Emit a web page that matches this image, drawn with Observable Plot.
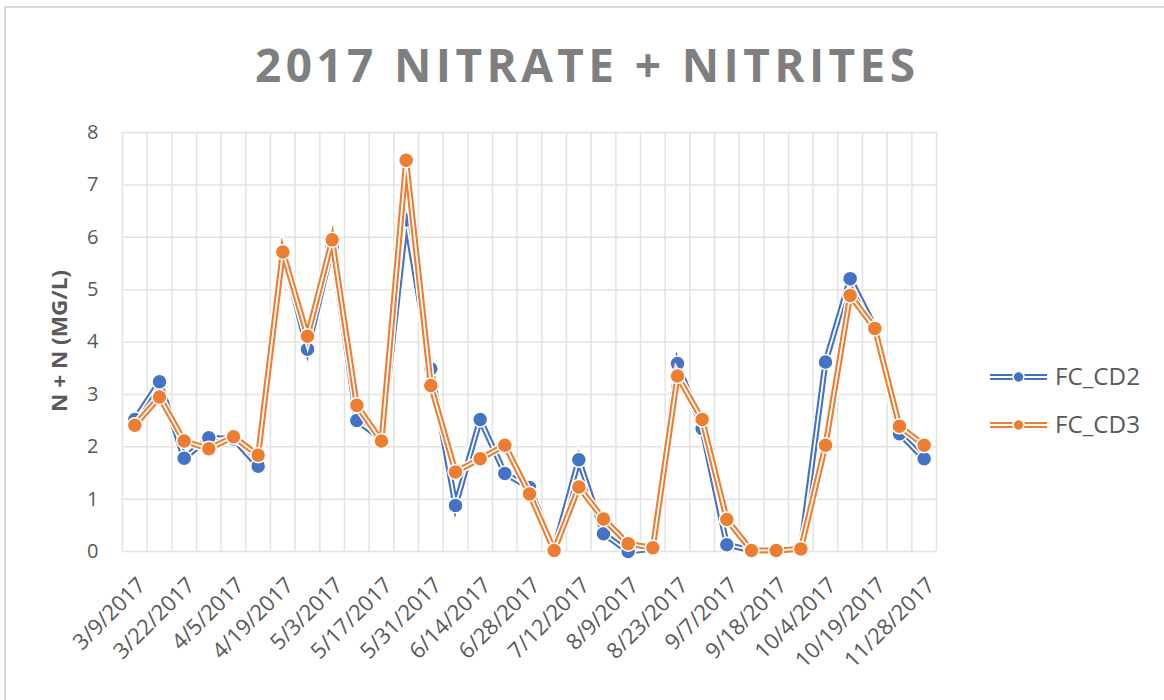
<!DOCTYPE html>
<html>
<head>
<meta charset="utf-8">
<script src="https://cdn.jsdelivr.net/npm/d3@7"></script>
<script src="https://cdn.jsdelivr.net/npm/@observablehq/plot@0.6"></script>
<style>
  body { margin: 0; background: #fff; }
  #wrap { position: relative; width: 1164px; height: 700px; overflow: hidden; background: #fff; }
  #frame { position: absolute; left: 4px; top: 6px; width: 1220px; height: 760px; border: 2px solid #d9d9d9; box-sizing: border-box; }
  #chart { position: absolute; left: 0; top: 0; }
  #overlay { position: absolute; left: 0; top: 0; pointer-events: none; }
</style>
</head>
<body>
<div id="wrap">
  <div id="frame"></div>
  <div id="chart"></div>
  <svg id="overlay" width="1164" height="700"></svg>
</div>
<script>
const titleText = "2017 NITRATE + NITRITES";
const yLabel = "N + N (MG/L)";
const seriesNames = ["FC_CD2", "FC_CD3"];
const seriesColors = ["#4472C4", "#ED7D31"];

const dates = ["3/9/2017","3/15/2017","3/22/2017","3/29/2017","4/5/2017","4/12/2017","4/19/2017","4/26/2017",
  "5/3/2017","5/10/2017","5/17/2017","5/24/2017","5/31/2017","6/7/2017","6/14/2017","6/21/2017",
  "6/28/2017","7/5/2017","7/12/2017","7/26/2017","8/9/2017","8/16/2017","8/23/2017","8/30/2017",
  "9/7/2017","9/13/2017","9/18/2017","9/27/2017","10/4/2017","10/11/2017","10/19/2017","11/8/2017","11/28/2017"];

const fcCD2 = [2.52, 3.24, 1.78, 2.17, 2.15, 1.63, 5.72, 3.86, 5.82, 2.50, 2.15, 6.33, 3.49, 0.88, 2.52, 1.49,
  1.22, 0.05, 1.75, 0.34, 0.00, 0.05, 3.59, 2.35, 0.13, 0.02, 0.02, 0.05, 3.62, 5.21, 4.28, 2.25, 1.77];
const fcCD3 = [2.41, 2.95, 2.11, 1.96, 2.19, 1.84, 5.72, 4.11, 5.95, 2.79, 2.11, 7.47, 3.17, 1.52, 1.77, 2.03,
  1.10, 0.02, 1.23, 0.62, 0.15, 0.07, 3.35, 2.52, 0.61, 0.02, 0.02, 0.05, 2.03, 4.89, 4.26, 2.39, 2.03];

const yTicks = [0, 1, 2, 3, 4, 5, 6, 7, 8];
const xTickIdx = d3.range(0, dates.length, 2);

const series = [fcCD2, fcCD3];
const gridColor = "#e3e3e3";
const textColor = "#595959";
const font = "'Open Sans', sans-serif";

const seriesMarks = series.flatMap((vals, s) => [
  Plot.line(vals, {x: (d, i) => i, y: d => d, stroke: "#ffffff", strokeWidth: 9, strokeLinejoin: "miter", strokeMiterlimit: 6}),
  Plot.line(vals, {x: (d, i) => i, y: d => d, stroke: seriesColors[s], strokeWidth: 6, strokeLinejoin: "miter", strokeMiterlimit: 6}),
  Plot.line(vals, {x: (d, i) => i, y: d => d, stroke: "#ffffff", strokeWidth: 1.8, strokeLinejoin: "miter", strokeMiterlimit: 6}),
  Plot.dot(vals, {x: (d, i) => i, y: d => d, r: 7.5, fill: seriesColors[s], stroke: "#ffffff", strokeWidth: 1.5})
]);

const chart = Plot.plot({
  width: 1164,
  height: 700,
  marginLeft: 122,
  marginRight: 228,
  marginTop: 132,
  marginBottom: 149,
  style: {fontFamily: font, fontSize: "20px", color: textColor, background: "transparent"},
  x: {domain: [-0.5, dates.length - 0.5], axis: null},
  y: {domain: [0, 8], axis: null},
  marks: [
    Plot.ruleX(d3.range(dates.length + 1), {x: i => i - 0.5, stroke: gridColor, strokeWidth: 1.5}),
    Plot.ruleY(yTicks, {stroke: gridColor, strokeWidth: 1.5}),
    Plot.axisY(yTicks, {tickSize: 0, tickPadding: 24, tickFormat: d => String(d), fill: textColor, fontSize: 20, label: null}),
    Plot.axisX(xTickIdx, {tickSize: 0, tickPadding: 30, dx: 7, tickRotate: -45, tickFormat: i => dates[i], fill: textColor, fontSize: 22, label: null}),
    ...seriesMarks
  ]
});
document.getElementById("chart").appendChild(chart);

const ov = d3.select("#overlay");
ov.append("text")
  .attr("x", 585).attr("y", 82)
  .attr("text-anchor", "middle")
  .attr("font-family", font)
  .attr("font-weight", "bold")
  .attr("font-size", 46)
  .attr("fill", "#7f7f7f")
  .attr("textLength", 660)
  .attr("lengthAdjust", "spacing")
  .text(titleText);

ov.append("text")
  .attr("transform", "translate(67,341) rotate(-90)")
  .attr("text-anchor", "middle")
  .attr("font-family", font)
  .attr("font-weight", "bold")
  .attr("font-size", 21)
  .attr("fill", textColor)
  .attr("textLength", 142)
  .attr("lengthAdjust", "spacingAndGlyphs")
  .text(yLabel);

seriesNames.forEach((name, s) => {
  const y = 377 + s * 48;
  const g = ov.append("g");
  g.append("line").attr("x1", 990).attr("x2", 1047).attr("y1", y).attr("y2", y)
    .attr("stroke", seriesColors[s]).attr("stroke-width", 6);
  g.append("line").attr("x1", 990).attr("x2", 1047).attr("y1", y).attr("y2", y)
    .attr("stroke", "#fff").attr("stroke-width", 1.8);
  g.append("circle").attr("cx", 1018.5).attr("cy", y).attr("r", 5.5)
    .attr("fill", seriesColors[s]).attr("stroke", "#fff").attr("stroke-width", 1.5);
  g.append("text").attr("x", 1055).attr("y", y + 8)
    .attr("font-family", font).attr("font-size", 23)
    .attr("fill", textColor)
    .attr("textLength", 85)
    .attr("lengthAdjust", "spacingAndGlyphs")
    .text(name);
});
</script>
</body>
</html>
